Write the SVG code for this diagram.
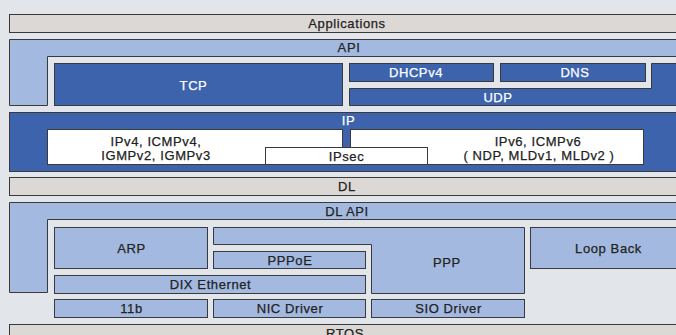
<svg xmlns="http://www.w3.org/2000/svg" width="676" height="335" viewBox="0 0 676 335">
<style>
.bg{fill:#e2e6ea}
.s{stroke:#3a3a3a;stroke-width:1}
.beige{fill:#dcd8d5}
.lb{fill:#a3b9e0}
.db{fill:#3d63ad}
.wh{fill:#ffffff}
text{font-family:"Liberation Sans",Arial,sans-serif;font-size:13px;letter-spacing:0.6px;text-anchor:middle;fill:#222222;stroke:#222222;stroke-width:0.25px}
text.w{fill:#ffffff;stroke:#ffffff}
</style>
<rect class="bg" x="0" y="0" width="676" height="335"/>
<g id="applications"><rect class="s beige" x="9.5" y="14.5" width="690" height="18"/><text x="347" y="28">Applications</text></g>
<g id="api"><path class="s lb" d="M9.5 39.5H700V56.5H47.5V105.5H9.5Z"/><text x="349" y="52">API</text></g>
<g id="tcp"><rect class="s db" x="54.5" y="63.5" width="288" height="42"/><text class="w" x="193.5" y="90">TCP</text></g>
<g id="dhcpv4"><rect class="s db" x="349.5" y="63.5" width="144" height="18"/><text class="w" x="416" y="77">DHCPv4</text></g>
<g id="dns"><rect class="s db" x="500.5" y="63.5" width="145" height="18"/><text class="w" x="575" y="77">DNS</text></g>
<g id="udp"><path class="s db" d="M349.5 88.5H651.5V63.5H700V105.5H349.5Z"/><text class="w" x="498" y="101.5">UDP</text></g>
<g id="ip"><rect class="s db" x="9.5" y="112.5" width="690" height="59"/><text class="w" x="348.5" y="125">IP</text></g>
<g id="ipv4"><rect class="s wh" x="47.5" y="129.5" width="295" height="35"/><text x="156" y="145.5">IPv4, ICMPv4,</text><text x="156" y="159.5">IGMPv2, IGMPv3</text></g>
<g id="ipv6"><rect class="s wh" x="350.5" y="129.5" width="293" height="35"/><text x="538" y="145.5">IPv6, ICMPv6</text><text x="539" y="159.5">( NDP, MLDv1, MLDv2 )</text></g>
<g id="ipsec"><rect class="s wh" x="265.5" y="147.5" width="162" height="17"/><text x="346.5" y="161">IPsec</text></g>
<g id="dl"><rect class="s beige" x="9.5" y="177.5" width="690" height="18"/><text x="347" y="191">DL</text></g>
<g id="dlapi"><path class="s lb" d="M9.5 202.5H700V219.5H47.5V292.5H9.5Z"/><text x="347" y="215.5">DL API</text></g>
<g id="arp"><rect class="s lb" x="54.5" y="227.5" width="153" height="41"/><text x="131.5" y="253">ARP</text></g>
<g id="ppp"><path class="s lb" d="M213.5 227.5H524.5V293.5H371.5V244.5H213.5Z"/><text x="447" y="266.5">PPP</text></g>
<g id="pppoe"><rect class="s lb" x="213.5" y="251.5" width="152" height="17"/><text x="290" y="265">PPPoE</text></g>
<g id="loopback"><rect class="s lb" x="530.5" y="227.5" width="170" height="41"/><text x="608.5" y="252.5">Loop Back</text></g>
<g id="dixethernet"><rect class="s lb" x="54.5" y="275.5" width="311" height="18"/><text x="210.5" y="288.5">DIX Ethernet</text></g>
<g id="n11b"><rect class="s lb" x="54.5" y="299.5" width="153" height="18"/><text x="131.5" y="313">11b</text></g>
<g id="nicdriver"><rect class="s lb" x="213.5" y="299.5" width="152" height="18"/><text x="290" y="313">NIC Driver</text></g>
<g id="siodriver"><rect class="s lb" x="371.5" y="299.5" width="153" height="18"/><text x="448.5" y="313">SIO Driver</text></g>
<g id="rtos"><rect class="s beige" x="9.5" y="324.5" width="690" height="20"/><text x="345" y="337.5">RTOS</text></g>
</svg>
